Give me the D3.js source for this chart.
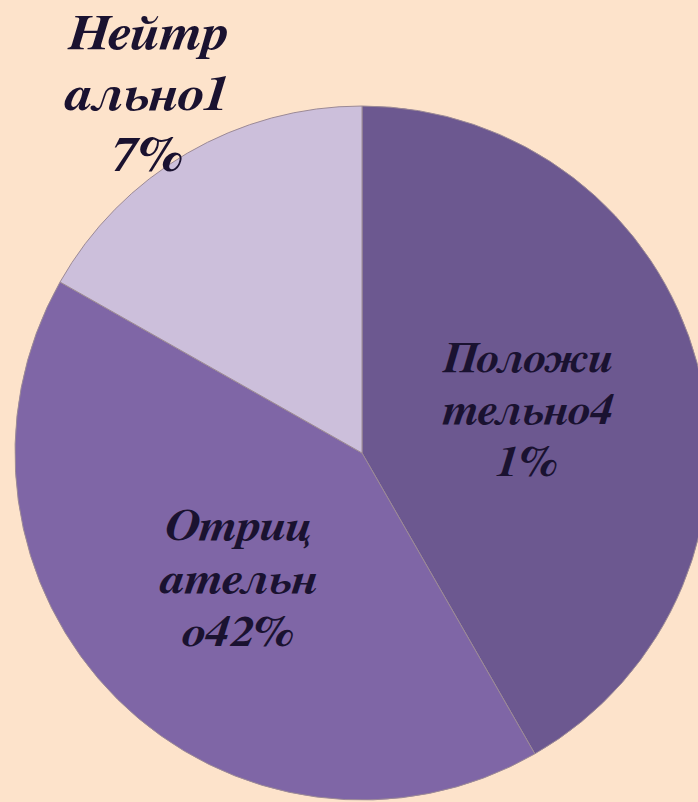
<!DOCTYPE html>
<html><head><meta charset="utf-8">
<script src="https://cdn.jsdelivr.net/npm/d3@7"></script>
<style>html,body{margin:0;padding:0;background:#fde3cb;}svg{display:block;}
.lbl{font-family:"FreeSerif","Liberation Serif","Times New Roman",serif;font-style:italic;font-weight:bold;}</style>
</head><body>
<svg id="chart" width="698" height="802"></svg>
<script>
const categories = ["Положительно", "Отрицательно", "Нейтрально"];
const values = [41.7, 41.5, 16.8];
const labelLines = [
  ["Положи", "тельно4", "1%"],
  ["Отриц", "ательн", "о42%"],
  ["Нейтр", "ально1", "7%"]
];
const colors = ["#6c5890", "#7f66a6", "#ccbfdb"];
// label layout (style, not data)
const labelRadiusFactor = [0.493, 0.507, 1.23];
const labelFontSize = [44, 44, 50];
const labelLineHeight = [52, 53, 61];
const labelBaselineNudge = [0.35, 0.35, 0.52];
const labelStretch = [1.06, 1.12, 1.10];

const svg = d3.select("#chart");
const cx = 362, cy = 453, R = 347;
const g = svg.append("g").attr("transform", `translate(${cx},${cy})`);
const pie = d3.pie().sort(null).value(d => d)(values);
const arc = d3.arc().innerRadius(0).outerRadius(R);

g.selectAll("path").data(pie).join("path")
  .attr("d", arc)
  .attr("fill", (d, i) => colors[i])
  .attr("stroke", "#9c8a96")
  .attr("stroke-width", 1);

pie.forEach((d, i) => {
  const rr = R * labelRadiusFactor[i];
  const [x, y] = d3.arc().innerRadius(rr).outerRadius(rr).centroid(d);
  const fs = labelFontSize[i], lh = labelLineHeight[i];
  const lines = labelLines[i];
  const t = g.append("text")
    .attr("class", "lbl")
    .attr("text-anchor", "middle")
    .attr("font-size", fs)
    .attr("fill", "#1a1230")
    .attr("transform", `translate(${x},0) scale(${labelStretch[i]},1)`);
  lines.forEach((ln, k) => {
    t.append("tspan").attr("x", 0)
      .attr("y", y + (k - (lines.length - 1) / 2) * lh + fs * labelBaselineNudge[i])
      .text(ln);
  });
});
</script>
</body></html>
